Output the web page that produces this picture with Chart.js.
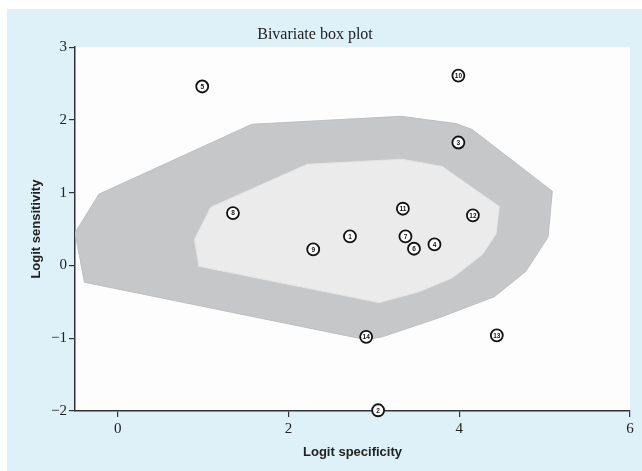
<!DOCTYPE html>
<html>
<head>
<meta charset="utf-8">
<script src="https://cdn.jsdelivr.net/npm/chart.js@4.4.1/dist/chart.umd.min.js"></script>
<style>
  html, body { margin: 0; padding: 0; background: #ffffff; }
  #wrap { width: 642px; height: 471px; }
</style>
</head>
<body>
<div id="wrap"><canvas id="c" width="642" height="471"></canvas></div>
<script>
// Study identifiers and their logit specificity / sensitivity estimates
const studyIds = [1, 2, 3, 4, 5, 6, 7, 8, 9, 10, 11, 12, 13, 14];
const logitSpec = [2.72, 3.05, 3.99, 3.71, 0.99, 3.47, 3.37, 1.35, 2.29, 3.99, 3.34, 4.16, 4.44, 2.91];
const logitSens = [0.40, -1.99, 1.69, 0.29, 2.46, 0.23, 0.40, 0.72, 0.22, 2.61, 0.78, 0.69, -0.96, -0.98];

// Fence (outer region) vertices
const fenceX = [-0.50, -0.22, 1.57, 3.32, 3.96, 4.15, 5.09, 5.04, 4.78, 4.41, 3.76, 3.10, 2.91, -0.39];
const fenceY = [0.45, 0.98, 1.94, 2.05, 1.95, 1.87, 1.02, 0.39, -0.08, -0.43, -0.72, -0.98, -1.02, -0.23];

// Hinge (inner region) vertices
const hingeX = [1.09, 2.22, 3.33, 3.80, 4.47, 4.43, 4.27, 3.92, 3.53, 3.06, 0.95, 0.90];
const hingeY = [0.80, 1.39, 1.46, 1.36, 0.81, 0.43, 0.15, -0.17, -0.36, -0.51, -0.01, 0.36];

// Axis ticks
const xTicks = [0, 2, 4, 6];
const yTicks = [-2, -1, 0, 1, 2, 3];

const toPoints = (xs, ys) => xs.map((x, i) => ({ x: x, y: ys[i] }));
const closed = (xs, ys) => { const p = toPoints(xs, ys); p.push(p[0]); return p; };

// Page background, panel and plotting area
const backdrop = {
  id: 'backdrop',
  beforeDraw(chart) {
    const { ctx, chartArea: a } = chart;
    ctx.save();
    ctx.fillStyle = '#ffffff';
    ctx.fillRect(0, 0, chart.width, chart.height);
    ctx.fillStyle = '#def0f8';
    ctx.fillRect(7, 9, chart.width - 7, chart.height - 9);
    ctx.fillStyle = '#fdfdfd';
    ctx.fillRect(a.left, a.top, a.right - a.left, a.bottom - a.top);
    ctx.restore();
  }
};

// Study numbers written inside the point markers
const studyLabels = {
  id: 'studyLabels',
  afterDatasetsDraw(chart) {
    const meta = chart.getDatasetMeta(0);
    const { ctx } = chart;
    ctx.save();
    ctx.fillStyle = '#111111';
    ctx.font = 'bold 6.5px "Liberation Sans", Arial, sans-serif';
    ctx.textAlign = 'center';
    ctx.textBaseline = 'middle';
    meta.data.forEach((pt, i) => {
      ctx.fillText(String(studyIds[i]), pt.x, pt.y + 0.5);
    });
    ctx.restore();
  }
};

const serif = '"Liberation Serif", "Times New Roman", serif';
const sans = '"Liberation Sans", Arial, sans-serif';

new Chart(document.getElementById('c'), {
  type: 'scatter',
  data: {
    datasets: [
      {
        label: 'Studies',
        data: toPoints(logitSpec, logitSens),
        pointRadius: 6,
        pointHoverRadius: 6,
        pointBackgroundColor: '#ffffff',
        pointBorderColor: '#111111',
        pointBorderWidth: 1.8,
        showLine: false,
        clip: false,
        order: 0
      },
      {
        label: 'Hinge',
        data: closed(hingeX, hingeY),
        showLine: true,
        fill: 'shape',
        backgroundColor: '#ebebeb',
        borderColor: '#e6e6e6',
        borderWidth: 1,
        pointRadius: 0,
        tension: 0,
        order: 1
      },
      {
        label: 'Fence',
        data: closed(fenceX, fenceY),
        showLine: true,
        fill: 'shape',
        backgroundColor: '#c6c7c9',
        borderColor: '#bdbec0',
        borderWidth: 1,
        pointRadius: 0,
        tension: 0,
        order: 2
      }
    ]
  },
  options: {
    responsive: false,
    animation: false,
    layout: { padding: { left: 0, right: 12, top: 0, bottom: 0 } },
    plugins: {
      legend: { display: false },
      tooltip: { enabled: false },
      title: {
        display: true,
        text: 'Bivariate box plot',
        color: '#222222',
        font: { family: serif, size: 16, weight: 'normal' },
        padding: { top: 25, bottom: 3 }
      }
    },
    scales: {
      x: {
        type: 'linear',
        min: -0.5,
        max: 6,
        afterBuildTicks(scale) { scale.ticks = xTicks.map(v => ({ value: v })); },
        afterFit(scale) { scale.height = 60; },
        border: { display: true, color: '#333333', width: 1.5 },
        grid: { drawOnChartArea: false, drawTicks: true, tickLength: 6, color: '#333333', lineWidth: 1.2 },
        ticks: { color: '#222222', font: { family: serif, size: 15 }, padding: 3, maxRotation: 0 },
        title: {
          display: true,
          text: 'Logit specificity',
          color: '#222222',
          font: { family: sans, size: 13, weight: 'bold' },
          padding: { top: 0, bottom: 11 }
        }
      },
      y: {
        type: 'linear',
        min: -2,
        max: 3,
        afterBuildTicks(scale) { scale.ticks = yTicks.map(v => ({ value: v })); },
        afterFit(scale) { scale.width = 75; },
        border: { display: true, color: '#333333', width: 1.5 },
        grid: { drawOnChartArea: false, drawTicks: true, tickLength: 6, color: '#333333', lineWidth: 1.2 },
        ticks: {
          color: '#222222',
          font: { family: serif, size: 15 },
          padding: 2,
          callback: v => (v < 0 ? '\u2212' + Math.abs(v) : String(v))
        },
        title: {
          display: true,
          text: 'Logit sensitivity',
          color: '#222222',
          font: { family: sans, size: 13, weight: 'bold' },
          padding: { top: 29, bottom: 0 }
        }
      }
    }
  },
  plugins: [backdrop, studyLabels]
});
</script>
</body>
</html>
